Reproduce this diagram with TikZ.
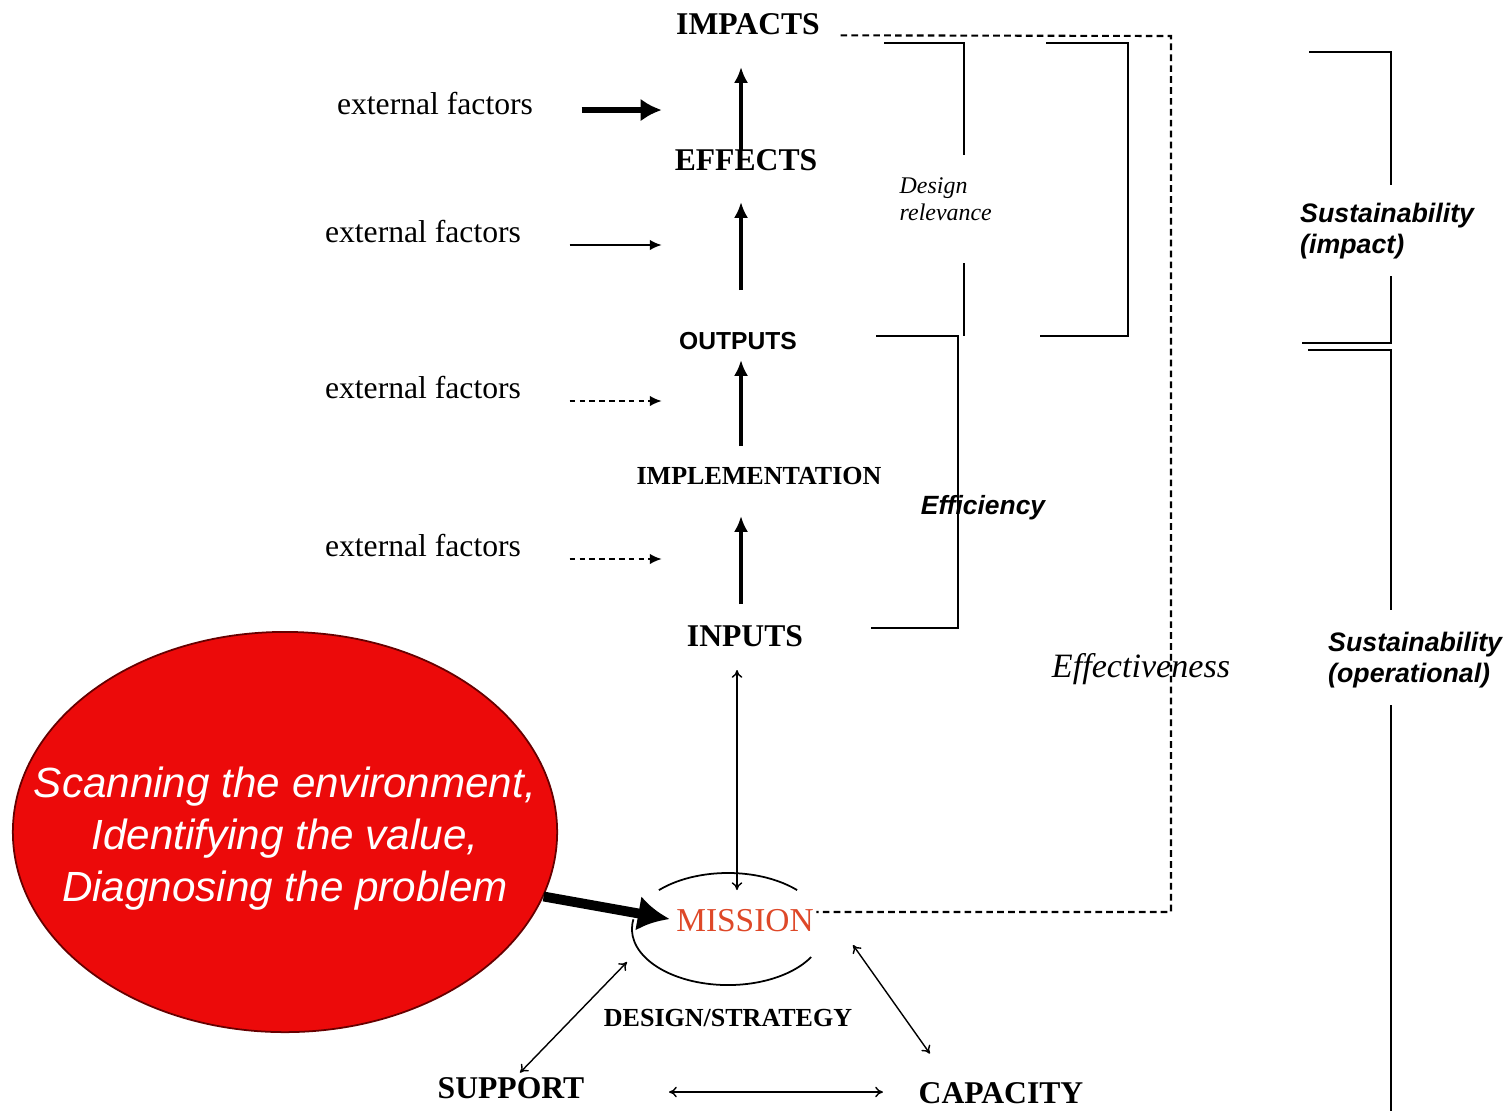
\documentclass[tikz,border=0pt]{standalone}
\usepackage{fontspec}
\setmainfont{Liberation Serif}
\setsansfont{Liberation Sans}
\usetikzlibrary{positioning,arrows.meta,calc,shapes}
\definecolor{scanred}   {RGB}{236, 10, 10}
\definecolor{missionred}{RGB}{222, 72, 40}
\newcommand\stagefontsize{\fontsize{9}{10}\selectfont}
\newcommand\smallfontsize{\fontsize{7.4}{8}\selectfont}
\newcommand\notefontsize{\fontsize{7.6}{8.8}\selectfont}

\begin{document}
\begin{tikzpicture}[
  x=0.01cm, y=-0.01cm,
  stage/.style={font={\stagefontsize\bfseries},inner sep=2pt},
  smallstage/.style={font={\smallfontsize\bfseries},inner sep=2pt},
  external/.style={font={\stagefontsize},inner sep=2pt},
  note/.style={font={\notefontsize\sffamily\bfseries\itshape},inner sep=1pt,align=left},
  flow/.style={-{Latex[length=4.5pt,width=4pt]},line width=1.2pt},
  bigflow/.style={-{Latex[length=6pt,width=6.5pt]},line width=1.7pt},
  hugeflow/.style={-{Latex[length=9pt,width=10pt]},line width=2.8pt},
  extflow/.style={-{Latex[length=3.4pt,width=3pt]},line width=0.5pt},
  link/.style={{To[length=2.2pt,width=3pt]}-{To[length=2.2pt,width=3pt]},line width=0.4pt},
  bracket/.style={line width=0.6pt},
  fence/.style={line width=0.6pt,dash pattern=on 1.9pt off 1.2pt},
]
  \useasboundingbox (0,0) rectangle (1504,1111);

  % chain of results
  \node[stage] (impacts) at (748,24) {IMPACTS};
  \node[stage] (effects) at (746,160) {EFFECTS};
  \node[inner sep=2pt,font={\fontsize{7}{8}\selectfont\sffamily\bfseries}] (outputs) at (738,341) {OUTPUTS};
  \node[smallstage] (implementation) at (759,476) {IMPLEMENTATION};
  \node[stage] (inputs) at (745,636) {INPUTS};
  \node[inner sep=0pt,font={\fontsize{9.5}{10}\selectfont},text=missionred] (mission) at (745,921) {MISSION};
  \node[smallstage] (design) at (728,1018) {DESIGN/STRATEGY};
  \node[stage] (support) at (511,1088) {SUPPORT};
  \node[stage] (capacity) at (1001,1093) {CAPACITY};

  % external factors
  \node[external] (ext1) at (435,103) {external factors};
  \node[external] (ext2) at (423,231) {external factors};
  \node[external] (ext3) at (423,387) {external factors};
  \node[external] (ext4) at (423,545) {external factors};

  \draw[bigflow] ($(ext1.east)+(41,7)$) -- ++(80,0);
  \draw[extflow] ($(ext2.east)+(41,14)$) -- ++(92,0);
  \draw[extflow,dash pattern=on 1.6pt off 1.2pt] ($(ext3.east)+(41,14)$) -- ++(92,0);
  \draw[extflow,dash pattern=on 1.6pt off 1.2pt] ($(ext4.east)+(41,14)$) -- ++(92,0);

  \draw[flow] ($(effects)+(-5,-10)$) -- ($(impacts)+(-7,43)$);
  \draw[flow] ($(outputs)+(3,-51)$) -- ($(effects)+(-5,42)$);
  \draw[flow] ($(implementation)+(-18,-30)$) -- ($(outputs)+(3,19)$);
  \draw[flow] ($(inputs)+(-4,-32)$) -- ($(implementation)+(-18,40)$);
  \draw[link] ($(inputs)+(-8,34)$) -- ($(mission)+(-8,-31)$);

  % the scanning blob
  \node[ellipse,fill=scanred,draw=black!60!red,line width=0.5pt,minimum width=5.44cm,minimum height=4cm,inner sep=0pt] (scan) at (285,832) {};
  \node[text=white,align=center,font={\fontsize{12}{14.8}\selectfont\sffamily\itshape}] (scantext) at ($(scan)+(0,7)$)
        {Scanning the environment,\\Identifying the value,\\Diagnosing the problem};
  \draw[hugeflow] (scan.-14) -- ($(mission.west)+(-6,-2)$);

  % open ellipse round the mission
  \coordinate (mc) at (728,929);
  \draw[line width=0.5pt] ([shift={(44:0.96cm and 0.56cm)}]mc) arc[start angle=44,end angle=136,x radius=0.96cm,y radius=0.56cm];
  \draw[line width=0.5pt] ([shift={(170:0.96cm and 0.56cm)}]mc) arc[start angle=170,end angle=330,x radius=0.96cm,y radius=0.56cm];

  \draw[link] ($(support.north)+(9,3)$) -- ($(mc)+(-101,33)$);
  \draw[link] ($(capacity.north west)+(19,-21)$) -- ($(mc)+(125,16)$);
  \draw[link] ($(support.east)+(77,4)$) -- ($(capacity.west)+(-28,-1)$);

  % brackets
  \draw[bracket] (884,43) -- (964,43) -- (964,155);
  \draw[bracket] (964,263) -- (964,336);
  \node[anchor=west,inner sep=0pt,align=left,font={\fontsize{6.8}{7.7}\selectfont\itshape}] (relevance) at (899,199) {Design\\relevance};

  \draw[bracket] (876,336) -- (958,336) -- (958,628) -- (871,628);
  \node[note,font={\fontsize{7.5}{8}\selectfont\sffamily\bfseries\itshape}] (efficiency) at (983,508) {Efficiency};

  \draw[bracket] (1046,43) -- (1128,43) -- (1128,336) -- (1040,336);

  \draw[fence] ($(impacts.base east)+(13,1)$) -- (1171,36) |- ($(mission.east)+(2,-9)$);
  \node[inner sep=0pt,font={\fontsize{9.7}{10}\selectfont\itshape}] (effectiveness) at (1141,669) {Effectiveness};

  \draw[bracket] (1309,52) -- (1391,52) -- (1391,185);
  \draw[bracket] (1391,276) -- (1391,343) -- (1302,343);
  \node[note,anchor=west] (sustimpact) at (1296,231) {Sustainability\\(impact)};

  \draw[bracket] (1308,350) -- (1391,350) -- (1391,610);
  \draw[bracket] (1391,705) -- (1391,1111);
  \node[note,anchor=west] (sustoper) at (1324,660) {Sustainability\\(operational)};

\end{tikzpicture}
\end{document}
